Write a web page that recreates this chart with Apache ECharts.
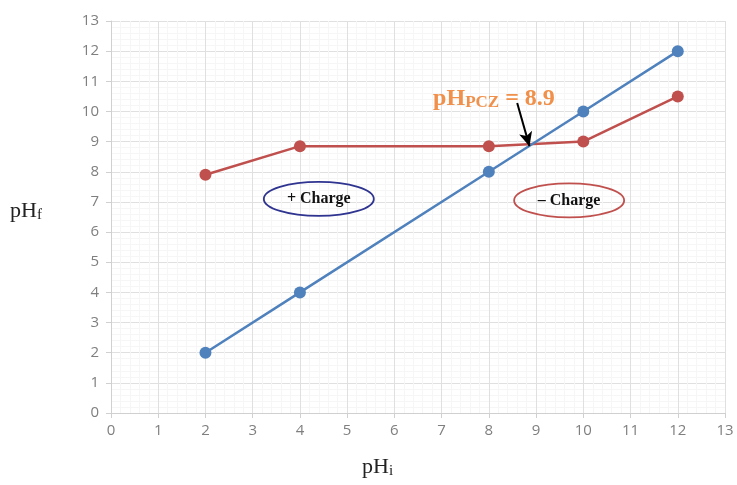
<!DOCTYPE html>
<html>
<head>
<meta charset="utf-8">
<script src="https://cdn.jsdelivr.net/npm/echarts@6/dist/echarts.min.js"></script>
<style>
  html, body { margin: 0; padding: 0; background: #fff; }
  #chart { width: 737px; height: 485px; }
</style>
</head>
<body>
<div id="chart"></div>
<script>
// Initial pH (x) vs final pH (y)
const pHi = [2, 4, 8, 10, 12];
const blankLine = [2, 4, 8, 10, 12];       // pHf = pHi reference line
const sampleLine = [7.9, 8.85, 8.85, 9.0, 10.5];
const xTicks = [0, 1, 2, 3, 4, 5, 6, 7, 8, 9, 10, 11, 12, 13];
const yTicks = [0, 1, 2, 3, 4, 5, 6, 7, 8, 9, 10, 11, 12, 13];
const pzc = 8.9;

const chart = echarts.init(document.getElementById('chart'));
const serif = '"Liberation Serif", "DejaVu Serif", serif';
const sans = '"Open Sans", "Liberation Sans", sans-serif';

const axisCommon = {
  type: 'value',
  interval: 1,
  axisLine: { show: true, lineStyle: { color: '#d0d0d0', width: 1 } },
  axisTick: { show: true, length: 5, lineStyle: { color: '#d0d0d0' } },
  axisLabel: { color: '#7f7f7f', fontSize: 15, fontFamily: sans },
  splitLine: { show: true, lineStyle: { color: '#e0e0e0', width: 1 } },
  minorTick: { show: false, splitNumber: 5 },
  minorSplitLine: { show: true, lineStyle: { color: '#f6f6f6', width: 1 } }
};

chart.setOption({
  animation: false,
  backgroundColor: '#ffffff',
  grid: { left: 111, right: 12, top: 21, bottom: 72 },
  xAxis: Object.assign({}, axisCommon, {
    min: xTicks[0], max: xTicks[xTicks.length - 1],
    axisLabel: Object.assign({}, axisCommon.axisLabel, { margin: 10 })
  }),
  yAxis: Object.assign({}, axisCommon, {
    min: yTicks[0], max: yTicks[yTicks.length - 1],
    axisLabel: Object.assign({}, axisCommon.axisLabel, { margin: 12 })
  }),
  series: [
    {
      name: 'pHi = pHf',
      type: 'line',
      data: pHi.map((x, i) => [x, blankLine[i]]),
      symbol: 'circle', symbolSize: 12,
      lineStyle: { color: '#4f81bd', width: 2.5 },
      itemStyle: { color: '#4f81bd' },
      z: 3
    },
    {
      name: 'sample',
      type: 'line',
      data: pHi.map((x, i) => [x, sampleLine[i]]),
      symbol: 'circle', symbolSize: 12,
      lineStyle: { color: '#c0504d', width: 2.5 },
      itemStyle: { color: '#c0504d' },
      z: 2,
      markLine: {
        silent: true,
        symbol: ['none', 'arrow'],
        symbolSize: [10, 14],
        label: { show: false },
        lineStyle: { color: '#000', width: 2, type: 'solid' },
        data: [[{ coord: [8.6, 10.28] }, { coord: [8.86, 8.85] }]]
      }
    }
  ]
});

function px(x, y) { return chart.convertToPixel({ gridIndex: 0 }, [x, y]); }

function charge(cx, cy, text, color) {
  const c = px(cx, cy);
  return [
    {
      type: 'ellipse',
      shape: { cx: c[0], cy: c[1], rx: 55, ry: 17 },
      style: { fill: 'rgba(255,255,255,0)', stroke: color, lineWidth: 1.8 },
      z: 10
    },
    {
      type: 'text',
      x: c[0], y: c[1],
      style: {
        text: text, fill: '#111', font: 'bold 16px ' + serif,
        align: 'center', verticalAlign: 'middle'
      },
      z: 11
    }
  ];
}

const lab = px(6.82, 10.5);
chart.setOption({
  graphic: [
    ...charge(4.4, 7.1, '+ Charge', '#2f3490'),
    ...charge(9.7, 7.05, '– Charge', '#c0504d'),
    {
      type: 'text',
      x: lab[0], y: lab[1],
      style: {
        text: '{b|pH}{s|PCZ}{b| = ' + pzc + '}',
        rich: {
          b: { fill: '#f0904a', font: 'bold 24px ' + serif, verticalAlign: 'bottom' },
          s: { fill: '#f0904a', font: 'bold 17px ' + serif, padding: [12, 0, 0, 0], verticalAlign: 'bottom' }
        },
        verticalAlign: 'middle'
      },
      z: 12
    },
    {
      type: 'text',
      left: 10, top: 200,
      style: {
        text: '{b|pH}{s|f}',
        rich: {
          b: { fill: '#222', font: '22px ' + serif },
          s: { fill: '#222', font: '15px ' + serif, padding: [8, 0, 0, 0] }
        }
      }
    },
    {
      type: 'text',
      left: 362, top: 456,
      style: {
        text: '{b|pH}{s|i}',
        rich: {
          b: { fill: '#222', font: '22px ' + serif },
          s: { fill: '#222', font: '15px ' + serif, padding: [8, 0, 0, 0] }
        }
      }
    }
  ]
});
</script>
</body>
</html>
